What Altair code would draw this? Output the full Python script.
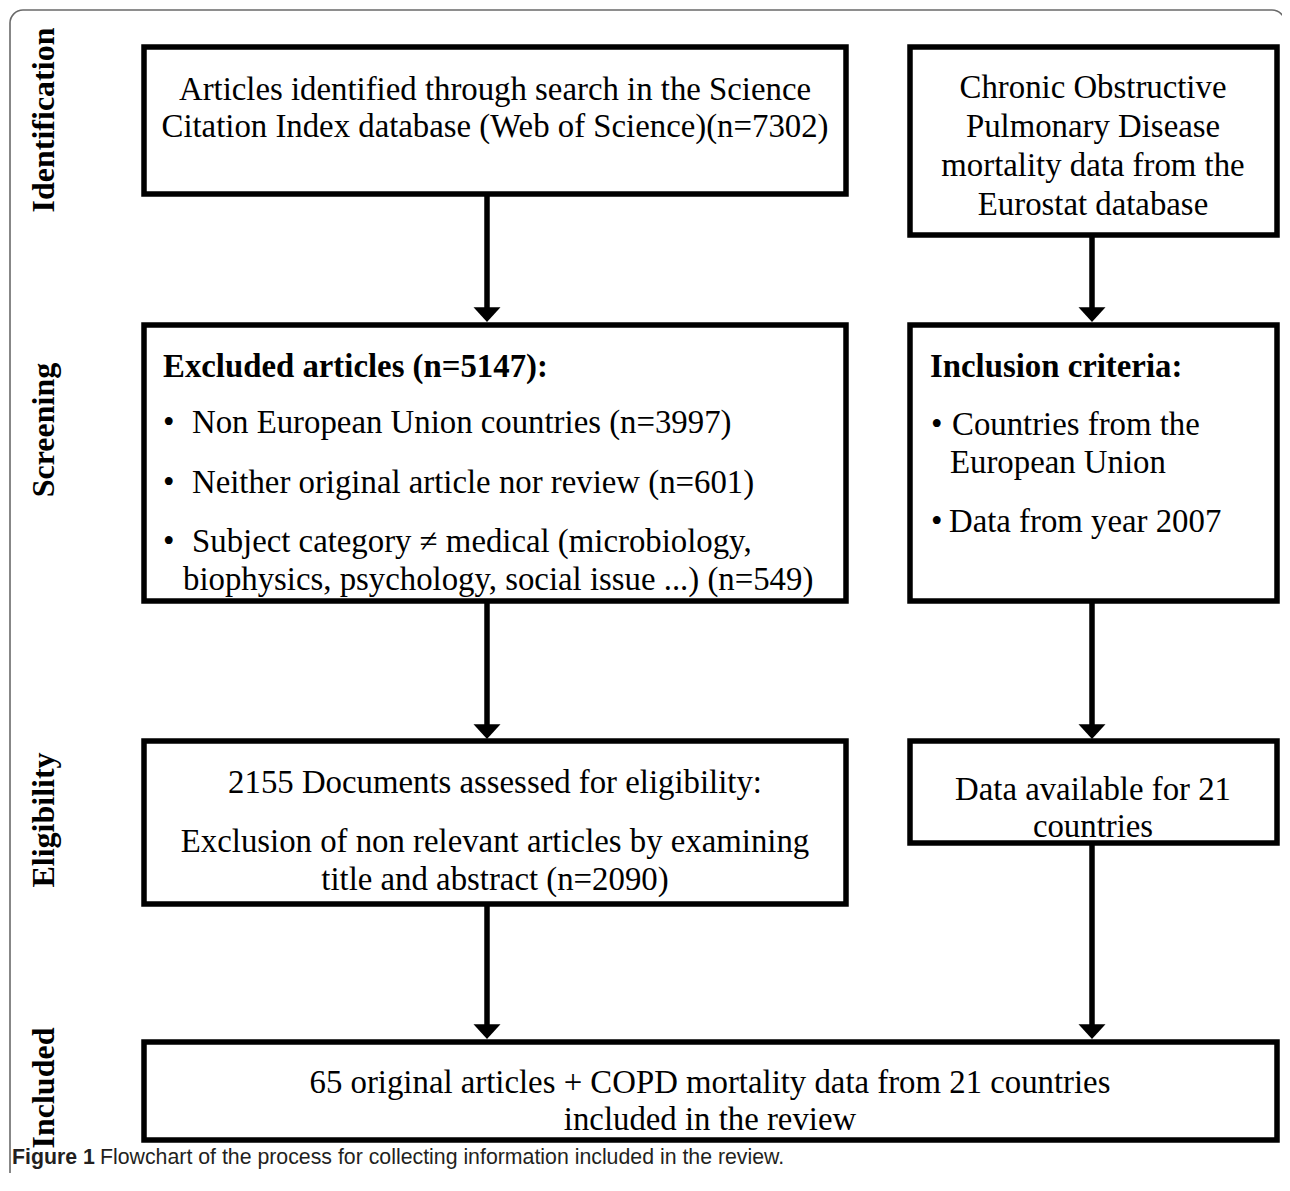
import altair as alt
import pandas as pd

# ---------------- content (text of the flowchart) ----------------
stage_labels = ["Identification", "Screening", "Eligibility", "Included"]

search_lines = ["Articles identified through search in the Science",
                "Citation Index database (Web of Science)(n=7302)"]
copd_lines = ["Chronic Obstructive", "Pulmonary Disease",
              "mortality data from the", "Eurostat database"]
excluded_heading = ["Excluded articles (n=5147):"]
excluded_items = ["Non European Union countries (n=3997)",
                  "Neither original article nor review (n=601)",
                  "Subject category \u2260 medical (microbiology,",
                  "biophysics, psychology, social issue ...) (n=549)"]
inclusion_heading = ["Inclusion criteria:"]
inclusion_items = ["Countries from the", "European Union", "Data from year 2007"]
eligibility_lines = ["2155 Documents assessed for eligibility:",
                     "Exclusion of non relevant articles by examining",
                     "title and abstract (n=2090)"]
available_lines = ["Data available for 21", "countries"]
included_lines = ["65 original articles + COPD mortality data from 21 countries",
                  "included in the review"]
caption_bold = ["Figure 1"]
caption_rest = ["Flowchart of the process for collecting information included in the review."]

# ---------------- layout (page pixel coordinates) ----------------
W, H = 1274, 1165
XDOM = [8, 8 + W]
YDOM = [8, 8 + H]

box_layout = {  # x, x2, y, y2
    "search": (144, 846, 47, 194),
    "copd": (910, 1277, 47, 235),
    "excluded": (144, 846, 325, 601),
    "inclusion": (910, 1277, 325, 601),
    "eligibility": (144, 846, 741, 904),
    "available": (910, 1277, 741, 843),
    "included": (144, 1277, 1042, 1140),
}
arrow_layout = [  # x, from y, tip y
    (487, 194, 322), (1092, 235, 322),
    (487, 601, 739), (1092, 601, 739),
    (487, 904, 1039), (1092, 843, 1039),
]

def X(field="x"):
    return alt.X(f"{field}:Q", scale=alt.Scale(domain=XDOM, nice=False, zero=False), axis=None)

def Y(field="y"):
    return alt.Y(f"{field}:Q", scale=alt.Scale(domain=YDOM, nice=False, zero=False, reverse=True), axis=None)

# frame
frame_df = pd.DataFrame([{"x": 10, "x2": 1285, "y": 10, "y2": 1260}])
frame = alt.Chart(frame_df).mark_rect(
    filled=False, stroke="#6a6a6a", strokeWidth=1.6, cornerRadius=13, clip=True
).encode(x=X(), x2="x2:Q", y=Y(), y2="y2:Q")

boxes_df = pd.DataFrame([{"name": k, "x": v[0], "x2": v[1], "y": v[2], "y2": v[3]}
                         for k, v in box_layout.items()])
boxes = alt.Chart(boxes_df).mark_rect(
    fill="white", stroke="black", strokeWidth=5.5
).encode(x=X(), x2="x2:Q", y=Y(), y2="y2:Q")

arrows_df = pd.DataFrame([{"x": a[0], "y": a[1], "y2": a[2] - 6} for a in arrow_layout])
shafts = alt.Chart(arrows_df).mark_rule(color="black", strokeWidth=5.5).encode(
    x=X(), y=Y(), y2="y2:Q")

heads_df = pd.DataFrame([{"x": a[0], "y": a[2]} for a in arrow_layout])
heads = alt.Chart(heads_df).mark_point(
    shape="M -1 -1.1 L 1 -1.1 L 0 0 Z", size=729, filled=True,
    fill="black", opacity=1, strokeWidth=0
).encode(x=X(), y=Y())

# text rows
def rows(lines, x, ys):
    return [{"x": x, "y": y, "t": t} for t, y in zip(lines, ys)]

centered_rows = (rows(search_lines, 495, [90, 127])
                 + rows(copd_lines, 1093, [88, 127, 166, 205])
                 + rows(eligibility_lines, 495, [783, 842, 880])
                 + rows(available_lines, 1093, [790, 827])
                 + rows(included_lines, 710, [1083, 1120]))
left_rows = (rows(excluded_items[:3], 192, [423, 483, 542])
             + rows(excluded_items[3:], 183, [580])
             + rows(inclusion_items[:1], 952, [425])
             + rows(inclusion_items[1:2], 950, [463])
             + rows(inclusion_items[2:], 949, [522]))
bullet_rows = (rows(["\u2022"] * 3, 163, [423, 483, 542])
               + rows(["\u2022"] * 2, 931, [425, 522]))
bold_rows = rows(excluded_heading, 163, [367]) + rows(inclusion_heading, 930, [367])
stage_rows = rows(stage_labels, 44, [120, 430, 820, 1088])

SERIF = "Liberation Serif"
FS = 32.8

def text_layer(data, **kw):
    return alt.Chart(pd.DataFrame(data)).mark_text(
        font=SERIF, fontSize=FS, color="black", **kw
    ).encode(x=X(), y=Y(), text="t:N")

t_center = text_layer(centered_rows, align="center")
t_left = text_layer(left_rows, align="left")
t_bullet = text_layer(bullet_rows, align="left")
t_bold = text_layer(bold_rows, align="left", fontWeight="bold")
t_stage = alt.Chart(pd.DataFrame(stage_rows)).mark_text(
    font=SERIF, fontSize=32, fontWeight="bold", color="black",
    angle=270, align="center", baseline="middle"
).encode(x=X(), y=Y(), text="t:N")

CAP_FS = 21.3
cap1 = alt.Chart(pd.DataFrame(rows(caption_bold, 12, [1158]))).mark_text(
    font="Liberation Sans", fontSize=CAP_FS, fontWeight="bold", color="#231f20", align="left"
).encode(x=X(), y=Y(), text="t:N")
cap2 = alt.Chart(pd.DataFrame(rows(caption_rest, 100, [1158]))).mark_text(
    font="Liberation Sans", fontSize=CAP_FS, color="#231f20", align="left"
).encode(x=X(), y=Y(), text="t:N")

chart = alt.layer(
    frame, shafts, boxes, heads, t_center, t_left, t_bullet, t_bold, t_stage, cap1, cap2
).properties(
    width=W, height=H, padding=0, autosize=alt.AutoSizeParams(type="none"),
    background="white"
).configure_view(stroke=None)

chart.save("out.html", embed_options={"renderer": "svg", "actions": False})
